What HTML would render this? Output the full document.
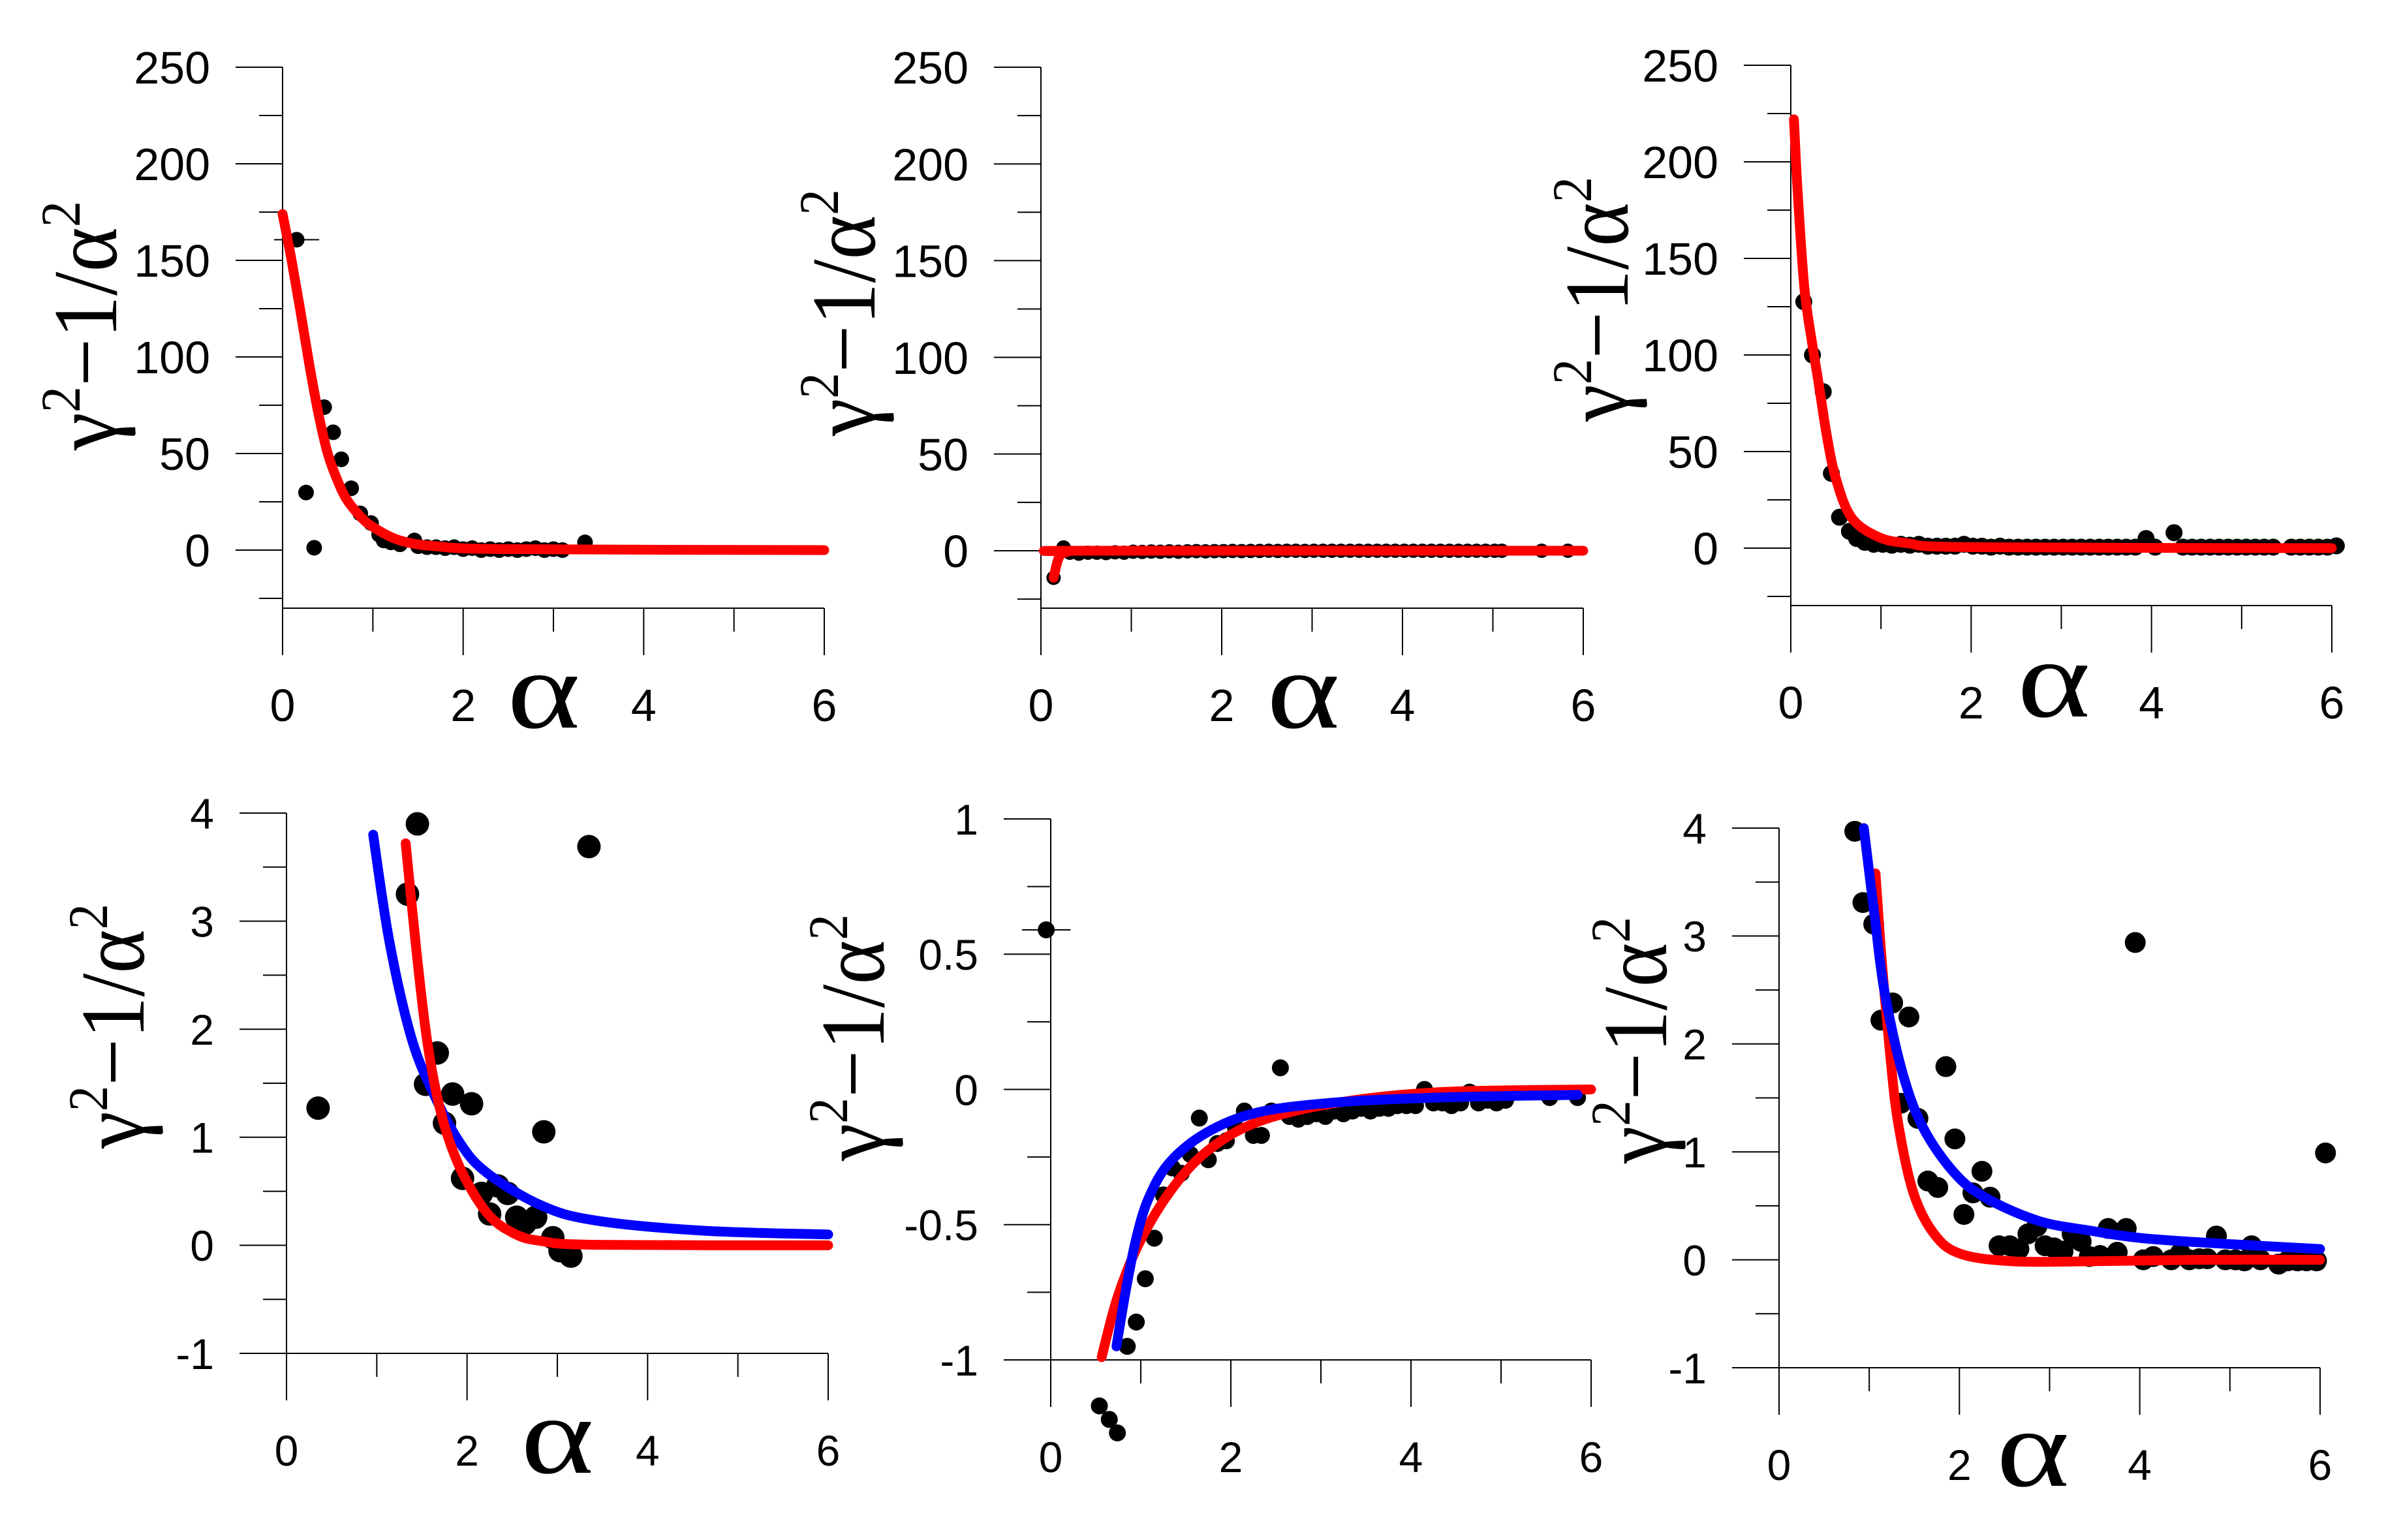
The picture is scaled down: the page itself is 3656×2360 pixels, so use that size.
<!DOCTYPE html>
<html><head><meta charset="utf-8">
<style>
html,body{margin:0;padding:0;background:#fff;}
svg{display:block;}
</style></head>
<body>
<svg id="fig" xmlns="http://www.w3.org/2000/svg" width="3656" height="2360" viewBox="0 0 3656 2360">
<rect x="0" y="0" width="3656" height="2360" fill="#fff"/>
</svg>
<script>
// ---------- Panel 1 data ----------
var p1X = [0.156,0.26,0.35,0.46,0.56,0.65,0.76,0.86,0.98,1.07,1.12,1.2,1.3,1.46,1.5,1.6,1.7,1.8,1.9,2.0,2.1,2.2,2.3,2.4,2.5,2.6,2.7,2.8,2.9,3.0,3.1,3.35];
var p1Y = [160.7,29.8,1.2,74,61,47,32,19,14,8,5,4,3,5,2,1.5,1.5,1,1.5,0.5,1,0,0.5,0,0.5,0,0.5,1,0,0.5,0,4];
var p1RedX = [0,0.1,0.2,0.3,0.4,0.5,0.6,0.7,0.85,1.0,1.3,1.7,2.5,6];
var p1RedY = [174,150,123,95,70,50,37,27,18,12,5,2,0.5,0];
// ---------- Panel 2 data ----------
var p2X = [0.14,0.25,0.32,0.42,0.52,0.62,0.72,0.82,0.92,1.02,1.12,1.22,1.32,1.42,1.52,1.62,1.72,1.82,1.92,2.02,2.12,2.22,2.32,2.42,2.52,2.62,2.72,2.82,2.92,3.02,3.12,3.22,3.32,3.42,3.52,3.62,3.72,3.82,3.92,4.02,4.12,4.22,4.32,4.42,4.52,4.62,4.72,4.82,4.92,5.02,5.1,5.54,5.83];
var p2Y = [-14,1.7,-1,-1.5,-1,-1,-1.2,-0.8,-1,-0.5,-0.6,-0.4,-0.5,-0.3,-0.5,-0.3,-0.2,-0.3,-0.2,-0.2,-0.1,-0.2,-0.1,-0.1,0,-0.1,0,0,-0.1,0,0,0,0,0,0,0,0,0,0,0,0,0,0,0,0,0,0,0,0,0,0,0,0];
var p2RedX = [0.14,0.18,0.22,0.3,0.5,6];
var p2RedY = [-14,-6,-2,-0.5,0,0];
// ---------- Panel 3 data ----------
var p3X = [0.144,0.24,0.36,0.45,0.54,0.65,0.73,0.82,0.92,1.02,1.12,1.22,1.32,1.42,1.52,1.62,1.72,1.82,1.92,2.02,2.12,2.22,2.32,2.42,2.52,2.62,2.72,2.82,2.92,3.02,3.12,3.22,3.32,3.42,3.52,3.62,3.72,3.82,3.94,4.04,4.25,4.35,4.45,4.55,4.65,4.75,4.85,4.95,5.05,5.15,5.25,5.35,5.55,5.65,5.75,5.85,5.95,6.05];
var p3Y = [127.6,100,81,38.7,16,8.7,5,3,2,2,1.5,2,1.5,2,1,1,1,1,2,1,1,0.5,1,0.5,0.5,0.5,0.5,0.5,0.5,0.5,0.5,0.5,0.5,0.5,0.5,0.5,0.5,0.5,5,0.5,8,0.5,0.5,0.5,0.5,0.5,0.5,0.5,0.5,0.5,0.5,0.5,0.5,0.5,0.5,0.5,0.5,1.2];
var p3RedX = [0.035,0.075,0.15,0.23,0.31,0.4,0.5,0.67,0.96,1.3,2,6];
var p3RedY = [222,185,135,108,85,58,36,16,6,2.5,0.5,0];
// ---------- Panel 4 data ----------
var p4X = [0.35,1.45,1.34,3.35,1.67,1.54,1.84,2.05,1.75,2.85,1.95,2.16,2.34,2.45,2.25,2.55,2.76,2.64,2.95,3.03,3.15];
var p4Y = [1.27,3.9,3.25,3.69,1.78,1.49,1.40,1.31,1.13,1.05,0.62,0.48,0.55,0.48,0.29,0.26,0.26,0.2,0.07,-0.05,-0.1];
var p4BlueX = [0.96,1.14,1.38,1.62,1.92,2.22,2.82,3.42,4.62,6];
var p4BlueY = [3.80,2.81,1.93,1.42,0.95,0.67,0.37,0.23,0.135,0.1];
var p4RedX = [1.32,1.44,1.56,1.71,1.92,2.22,2.52,2.82,3.42,6];
var p4RedY = [3.72,2.72,1.88,1.23,0.72,0.30,0.11,0.04,0.005,0];
// ---------- Panel 5 data ----------
var p5X = [-0.05,0.54,0.65,0.74,0.85,0.95,1.05,1.15,1.25,1.35,1.45,1.55,1.65,1.75,1.85,1.95,2.05,2.15,2.25,2.34,2.45,2.55,2.65,2.75,2.85,2.95,3.05,3.15,3.25,3.35,3.45,3.55,3.65,3.75,3.85,3.95,4.05,4.15,4.25,4.35,4.45,4.55,4.65,4.75,4.85,4.95,5.05,5.54,5.85];
var p5Y = [0.59,-1.17,-1.22,-1.27,-0.95,-0.86,-0.70,-0.55,-0.39,-0.29,-0.31,-0.24,-0.106,-0.26,-0.20,-0.19,-0.14,-0.08,-0.17,-0.17,-0.08,0.08,-0.1,-0.11,-0.1,-0.09,-0.1,-0.08,-0.09,-0.08,-0.07,-0.08,-0.07,-0.07,-0.06,-0.06,-0.06,0.0,-0.05,-0.05,-0.06,-0.05,-0.01,-0.05,-0.04,-0.05,-0.04,-0.03,-0.03];
var p5RedX = [0.565,0.74,0.98,1.32,1.73,2.30,3.17,4.32,6];
var p5RedY = [-0.99,-0.77,-0.57,-0.38,-0.23,-0.12,-0.05,-0.01,0.0];
var p5BlueX = [0.73,0.83,0.95,1.09,1.32,1.73,2.30,3.17,4.32,5.85];
var p5BlueY = [-0.95,-0.75,-0.55,-0.40,-0.27,-0.16,-0.085,-0.048,-0.03,-0.02];
// ---------- Panel 6 data ----------
var p6X = [0.84,0.93,1.05,1.13,1.26,1.44,1.35,1.54,1.85,1.65,1.76,1.95,2.05,2.15,2.25,2.34,2.44,2.56,2.66,2.76,2.86,2.95,3.05,3.15,3.25,3.35,3.44,3.56,3.65,3.75,3.85,3.95,4.04,4.15,4.35,4.45,4.55,4.66,4.75,4.85,4.95,5.06,5.16,5.24,5.34,5.54,5.64,5.75,5.85,5.96,6.06];
var p6Y = [3.97,3.31,3.11,2.22,2.38,2.25,1.45,1.31,1.79,0.73,0.67,1.12,0.42,0.62,0.82,0.58,0.13,0.13,0.10,0.24,0.31,0.13,0.11,0.08,0.24,0.17,0.03,0.04,0.29,0.07,0.29,2.94,0,0.03,0,0.06,0,0.01,0.01,0.22,0,0,-0.01,0.13,0,-0.04,-0.01,-0.01,-0.01,-0.01,0.99];
var p6BlueX = [0.94,1.06,1.17,1.37,1.60,1.95,2.30,2.88,3.45,4.03,4.90,6];
var p6BlueY = [4.0,3.18,2.48,1.73,1.22,0.80,0.57,0.36,0.27,0.20,0.15,0.10];
var p6RedX = [1.07,1.14,1.23,1.32,1.49,1.72,2.01,2.59,3.45,4.61,6];
var p6RedY = [3.58,2.76,1.92,1.27,0.62,0.24,0.056,-0.014,-0.014,0,0];
// ---------- Tick labels ----------
var xMajorTicks = [0,2,4,6];
var xMinorTicks = [1,3,5];
var yMajorBig = [0,50,100,150,200,250];
var yMinorBig = [-25,25,75,125,175,225];
var yMajorSmall = [-1,0,1,2,3,4];
var yMinorSmall = [-0.5,0.5,1.5,2.5,3.5];
var yMajorP5 = [-1,-0.5,0,0.5,1];
var yMinorP5 = [-0.75,-0.25,0.25,0.75];

var NS = 'http://www.w3.org/2000/svg';
var svg = document.getElementById('fig');
function mk(tag, attrs, parent){
  var e = document.createElementNS(NS, tag);
  for (var k in attrs) e.setAttribute(k, attrs[k]);
  (parent||svg).appendChild(e);
  return e;
}
function smoothPath(pts){
  var d = 'M' + pts[0][0].toFixed(1) + ',' + pts[0][1].toFixed(1);
  for (var i=0;i<pts.length-1;i++){
    var p0 = pts[i-1]||pts[i], p1 = pts[i], p2 = pts[i+1], p3 = pts[i+2]||p2;
    var c1x = p1[0]+(p2[0]-p0[0])/6, c1y = p1[1]+(p2[1]-p0[1])/6;
    var c2x = p2[0]-(p3[0]-p1[0])/6, c2y = p2[1]-(p3[1]-p1[1])/6;
    d += ' C'+c1x.toFixed(1)+','+c1y.toFixed(1)+' '+c2x.toFixed(1)+','+c2y.toFixed(1)+' '+p2[0].toFixed(1)+','+p2[1].toFixed(1);
  }
  return d;
}

function panel(c){
  var g = mk('g', {});
  
  
  function sx(v){ return c.x0 + v*(c.x6 - c.x0)/6; }
  function sy(v){ return c.yA + (c.vA - v)*(c.yB - c.yA)/(c.vA - c.vB); }
  var axisY = c.axisY;
  var topY = sy(c.yMajor[c.yMajor.length-1]);
  var ya = mk('line', {x1:c.x0, y1:topY, x2:c.x0, y2:axisY+72, stroke:'#000','stroke-width':2}, g);
  
  
  var xa = mk('line', {x1:c.x0, y1:axisY, x2:c.x6, y2:axisY, stroke:'#000','stroke-width':2}, g);
  
  
  c.yMajor.forEach(function(v){
    var t = mk('line', {x1:c.x0-72, y1:sy(v), x2:c.x0, y2:sy(v), stroke:'#000','stroke-width':2}, g);
    
    
    var l = mk('text', {x:c.x0-111, y:sy(v)+c.fs*0.36, 'text-anchor':'end', 'font-family':'"Liberation Sans", Arial, sans-serif', 'font-size':c.fs, fill:'#000'}, g);
    
    
    l.textContent = String(v);
  });
  c.yMinor.forEach(function(v){
    var t = mk('line', {x1:c.x0-36, y1:sy(v), x2:c.x0, y2:sy(v), stroke:'#000','stroke-width':2}, g);
    
    
  });
  xMajorTicks.forEach(function(v){
    var t = mk('line', {x1:sx(v), y1:axisY, x2:sx(v), y2:axisY+72, stroke:'#000','stroke-width':2}, g);
    
    
    var l = mk('text', {x:sx(v), y:axisY+148+c.fs*0.36, 'text-anchor':'middle', 'font-family':'"Liberation Sans", Arial, sans-serif', 'font-size':c.fs, fill:'#000'}, g);
    
    
    l.textContent = String(v);
  });
  xMinorTicks.forEach(function(v){
    var t = mk('line', {x1:sx(v), y1:axisY, x2:sx(v), y2:axisY+36, stroke:'#000','stroke-width':2}, g);
    
    
  });
  if (c.alphaX){
    var a = mk('text', {x:c.x0+c.alphaX, y:axisY+c.alphaY, 'text-anchor':'middle', 'font-family':'"Liberation Serif", "Times New Roman", serif', 'font-size':170, fill:'#000', textLength:112, lengthAdjust:'spacingAndGlyphs'}, g);
    
    
    a.textContent = 'α';
  }
  var tt = mk('text', {transform:'translate('+c.tX+','+c.tY0+') rotate(-90)', x:0, y:0, 'font-family':'"Liberation Serif", "Times New Roman", serif', 'font-size':140, fill:'#000', textLength:c.tLen, lengthAdjust:'spacingAndGlyphs'}, g);
  
  
  tt.innerHTML = 'γ<tspan dy="-56" font-size="86">2</tspan><tspan dy="56">−1/α</tspan><tspan dy="-56" font-size="86">2</tspan>';
  if (c.errIdx !== undefined){
    var ex = c.px[c.errIdx], ey = c.py[c.errIdx];
    var eb = mk('line', {x1:sx(ex-c.errW), y1:sy(ey), x2:sx(ex+c.errW), y2:sy(ey), stroke:'#000','stroke-width':2}, g);
    
    
  }
  for (var i=0;i<c.px.length;i++){
    var d = mk('circle', {cx:sx(c.px[i]), cy:sy(c.py[i]), r:c.r, fill:'#000'}, g);
    
    
  }
  (c.curves||[]).forEach(function(cv){
    var pts = [];
    for (var j=0;j<cv.x.length;j++) pts.push([sx(cv.x[j]), sy(cv.y[j])]);
    var p = mk('path', {d:smoothPath(pts), fill:'none', stroke:cv.color, 'stroke-width':15, 'stroke-linecap':'round', 'stroke-linejoin':'round'}, g);
    
    
  });
}

panel({name:'panel-1', x0:433, x6:1263, vA:250, yA:103, vB:0, yB:843, axisY:932, yMajor:yMajorBig, yMinor:yMinorBig, fs:70,
  alphaX:400, alphaY:183, tX:178, tY0:690, tLen:382, px:p1X, py:p1Y, r:12, errIdx:0, errW:0.25,
  curves:[{x:p1RedX, y:p1RedY, color:'#ff0000', name:'red-fit-curve'}]});
panel({name:'panel-2', x0:1595, x6:2426, vA:250, yA:103, vB:0, yB:844, axisY:932, yMajor:yMajorBig, yMinor:yMinorBig, fs:70,
  alphaX:402, alphaY:183, tX:1340, tY0:668, tLen:378, px:p2X, py:p2Y, r:11,
  curves:[{x:p2RedX, y:p2RedY, color:'#ff0000', name:'red-fit-curve'}]});
panel({name:'panel-3', x0:2744, x6:3573, vA:250, yA:100, vB:0, yB:840, axisY:928, yMajor:yMajorBig, yMinor:yMinorBig, fs:70,
  alphaX:403, alphaY:170, tX:2494, tY0:646, tLen:375, px:p3X, py:p3Y, r:13,
  curves:[{x:p3RedX, y:p3RedY, color:'#ff0000', name:'red-fit-curve'}]});
panel({name:'panel-4', x0:439, x6:1269, vA:4, yA:1246, vB:-1, yB:2074, axisY:2074, yMajor:yMajorSmall, yMinor:yMinorSmall, fs:66,
  alphaX:415, alphaY:183, tX:220, tY0:1760, tLen:375, px:p4X, py:p4Y, r:18,
  curves:[{x:p4BlueX, y:p4BlueY, color:'#0000ff', name:'blue-fit-curve'},{x:p4RedX, y:p4RedY, color:'#ff0000', name:'red-fit-curve'}]});
panel({name:'panel-5', x0:1610, x6:2438, vA:1, yA:1255, vB:-1, yB:2084, axisY:2084, yMajor:yMajorP5, yMinor:yMinorP5, fs:66,
  alphaX:0, alphaY:0, tX:1354, tY0:1779, tLen:378, px:p5X, py:p5Y, r:13, errIdx:0, errW:0.27,
  curves:[{x:p5RedX, y:p5RedY, color:'#ff0000', name:'red-fit-curve'},{x:p5BlueX, y:p5BlueY, color:'#0000ff', name:'blue-fit-curve'}]});
panel({name:'panel-6', x0:2726, x6:3555, vA:4, yA:1269, vB:-1, yB:2096, axisY:2096, yMajor:yMajorSmall, yMinor:yMinorSmall, fs:66,
  alphaX:389, alphaY:181, tX:2553, tY0:1783, tLen:378, px:p6X, py:p6Y, r:16,
  curves:[{x:p6RedX, y:p6RedY, color:'#ff0000', name:'red-fit-curve'},{x:p6BlueX, y:p6BlueY, color:'#0000ff', name:'blue-fit-curve'}]});
</script>
</body></html>
